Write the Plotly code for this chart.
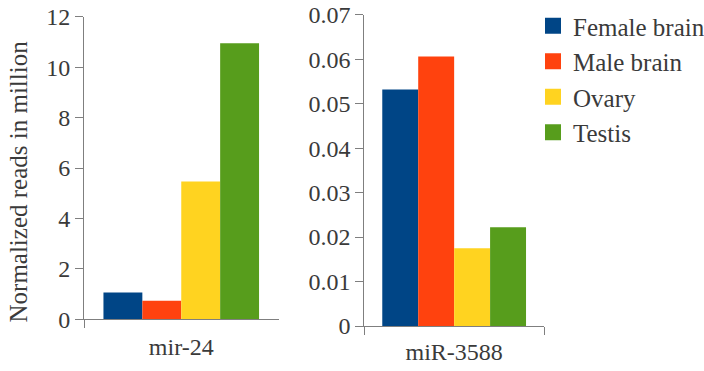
import plotly.graph_objects as go

series = ["Female brain", "Male brain", "Ovary", "Testis"]
colors = ["#004586", "#ff420e", "#ffd320", "#579d1c"]
mir24 = [1.06, 0.74, 5.46, 10.95]
mir3588 = [0.0532, 0.0606, 0.0175, 0.0222]
cat_left = ["mir-24"]
cat_right = ["miR-3588"]
ytitle = "Normalized reads in million"

FONT = "Liberation Serif"
TXT = "#3a3a3a"
AX = "#7f7f7f"

fig = go.Figure()
for i, s in enumerate(series):
    fig.add_trace(go.Bar(x=cat_left, y=[mir24[i]], marker=dict(color=colors[i], line=dict(width=0)),
                         xaxis="x", yaxis="y", showlegend=False, name=s))
    fig.add_trace(go.Bar(x=cat_right, y=[mir3588[i]], marker=dict(color=colors[i], line=dict(width=0)),
                         xaxis="x2", yaxis="y2", showlegend=False, name=s))
for i, s in enumerate(series):
    fig.add_trace(go.Scatter(x=[None], y=[None], mode="markers", name=s,
                             marker=dict(symbol="square", size=16, color=colors[i]),
                             xaxis="x", yaxis="y", legendgroup=s))

W, H = 704, 371
def px(a, b):
    return [a / W, b / W]
def py(top, bot):
    return [1 - bot / H, 1 - top / H]

axis_common = dict(showline=True, linecolor=AX, linewidth=1, showgrid=False, zeroline=False,
                   ticks="outside", ticklen=8, tickcolor=AX, automargin=False,
                   tickfont=dict(family=FONT, size=24, color=TXT))

fig.update_layout(
    template="none",
    font=dict(family=FONT, color=TXT),
    width=W, height=H, margin=dict(l=0, r=0, t=0, b=0, autoexpand=False),
    paper_bgcolor="white", plot_bgcolor="white",
    barmode="group", bargap=0.2, bargroupgap=0,
    xaxis=dict(domain=px(84, 278.5), anchor="y", type="category", tickson="boundaries",
               ticklabelstandoff=6, **axis_common),
    yaxis=dict(domain=py(16.7, 319.3), anchor="x", range=[0, 12], dtick=2, **axis_common),
    xaxis2=dict(domain=px(364.3, 544), anchor="y2", type="category", tickson="boundaries",
                ticklabelstandoff=4, **axis_common),
    yaxis2=dict(domain=py(14.7, 326), anchor="x2", range=[0, 0.07], dtick=0.01, **axis_common),
    legend=dict(x=533 / W, y=1 - 3 / H, xanchor="left", yanchor="top",
                font=dict(family=FONT, size=25, color=TXT), tracegroupgap=0,
                itemsizing="trace", bgcolor="rgba(0,0,0,0)"),
    showlegend=True,
)
fig.add_annotation(xref="paper", yref="paper", x=18 / W, y=1 - 181.5 / H, xanchor="center", yanchor="middle",
                   text=ytitle, textangle=-90, showarrow=False, font=dict(family=FONT, size=25, color=TXT))
fig.write_html("out.html")
